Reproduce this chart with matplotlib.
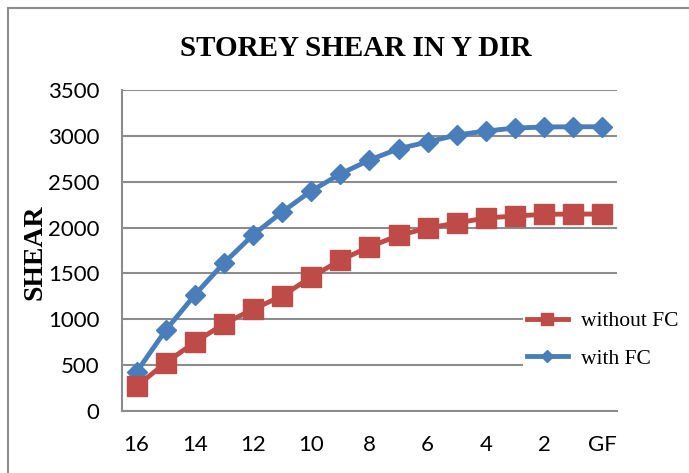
import matplotlib.pyplot as plt
from matplotlib.patches import Rectangle

# Storey labels (top storey first) and storey shear values
storeys = ['16', '15', '14', '13', '12', '11', '10', '9', '8', '7', '6', '5', '4', '3', '2', '1', 'GF']
with_fc = [425, 880, 1265, 1614, 1919, 2170, 2400, 2585, 2737, 2860, 2934, 3010, 3053, 3086, 3097, 3100, 3100]
without_fc = [270, 525, 750, 950, 1110, 1255, 1460, 1645, 1790, 1915, 1995, 2050, 2105, 2127, 2145, 2148, 2148]

blue = '#4A7EBB'
red = '#BE4B48'
grey = '#8C8C8C'

fig = plt.figure(figsize=(6.89, 4.73), dpi=100)
ax = fig.add_axes([0.177, 0.131, 0.7184, 0.6786])

x = list(range(len(storeys)))
l_with, = ax.plot(x, with_fc, color=blue, lw=3.5, marker='D', ms=10, label='with FC', zorder=3)
l_without, = ax.plot(x, without_fc, color=red, lw=3.5, marker='s', ms=14, label='without FC', zorder=4)

ax.set_xlim(-0.5, len(storeys) - 0.5)
ax.set_ylim(0, 3500)
ax.set_yticks(range(0, 3501, 500))
ax.set_xticks(x[::2])
ax.set_xticklabels(storeys[::2])

ax.grid(axis='y', color=grey, lw=1.5)
ax.set_axisbelow(True)
for s in ['top', 'right']:
    ax.spines[s].set_visible(False)
for s in ['left', 'bottom']:
    ax.spines[s].set_color(grey)
    ax.spines[s].set_linewidth(1.5)

ax.tick_params(axis='y', length=0, pad=16, labelsize=16)
ax.tick_params(axis='x', length=0, pad=17, labelsize=16)
for lab in ax.get_xticklabels() + ax.get_yticklabels():
    lab.set_fontfamily('Lato')

fig.text(0.517, 0.898, 'STOREY SHEAR IN Y DIR', ha='center', va='center',
         fontsize=21, fontweight='bold', family='Liberation Serif')
fig.text(0.051, 0.467, 'SHEAR', ha='center', va='center', rotation=90,
         fontsize=20, fontweight='bold', family='Liberation Serif')

fig.legend([l_without, l_with], ['without FC', 'with FC'], loc='center left',
           bbox_to_anchor=(0.743, 0.281), frameon=True, facecolor='white', edgecolor='none',
           framealpha=1, fancybox=False, markerscale=0.65, handlelength=1.9,
           handletextpad=0.6, labelspacing=0.8, borderpad=0.2,
           prop={'family': 'Liberation Serif', 'size': 15.5})

# outer chart border
fig.patches.append(Rectangle((0.0116, -0.05), 1.05, 1.033, transform=fig.transFigure,
                             fill=False, edgecolor=grey, lw=1.5))

fig.savefig('out.png', dpi=100)
